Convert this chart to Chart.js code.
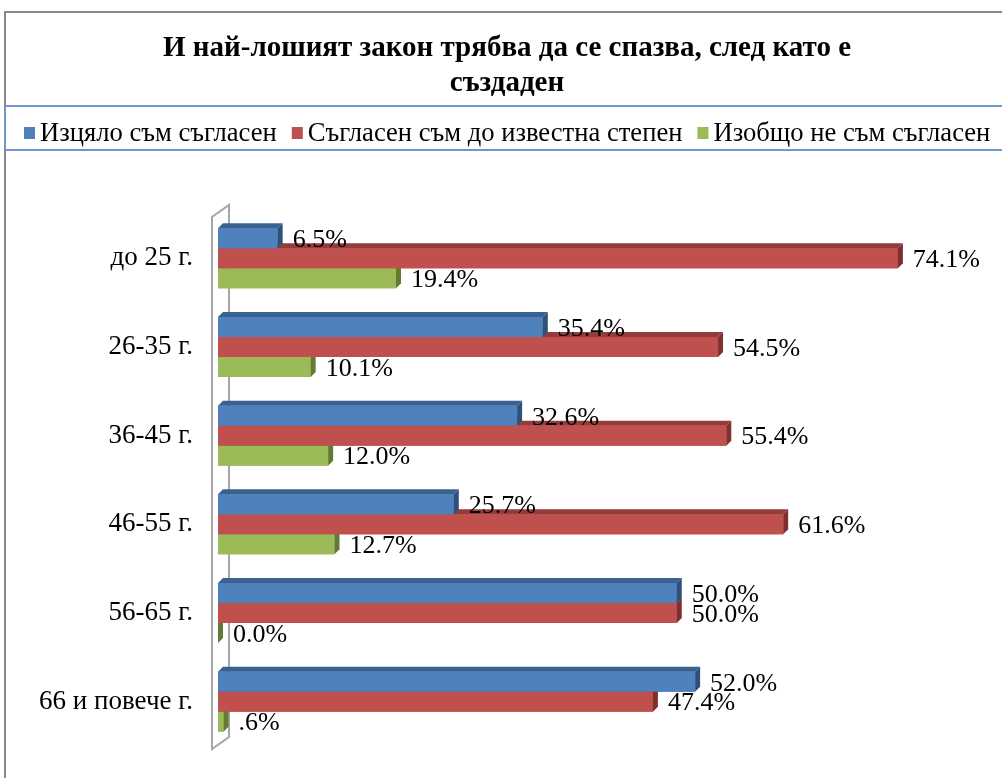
<!DOCTYPE html>
<html>
<head>
<meta charset="utf-8">
<script src="https://cdn.jsdelivr.net/npm/chart.js@4/dist/chart.umd.min.js"></script>
<style>
body { margin: 0; background: #fff; }
</style>
</head>
<body>
<canvas id="chart" width="1002" height="778"></canvas>
<script>
var titleLines = ["И най-лошият закон трябва да се спазва, след като е", "създаден"]
var categories = ["до 25 г.", "26-35 г.", "36-45 г.", "46-55 г.", "56-65 г.", "66 и повече г."]
var seriesNames = ["Изцяло съм съгласен", "Съгласен съм до известна степен", "Изобщо не съм съгласен"]
var fullyAgree = [6.5, 35.4, 32.6, 25.7, 50.0, 52.0]
var partlyAgree = [74.1, 54.5, 55.4, 61.6, 50.0, 47.4]
var disagree = [19.4, 10.1, 12.0, 12.7, 0.0, 0.6]

var serif = "'Liberation Serif', 'Times New Roman', serif"
var front = ["#4f81bd", "#c0504d", "#9bbb59"]
var topFace = ["#3a6291", "#933c3a", "#76923f"]
var sideFace = ["#2e5079", "#7d302e", "#627a34"]
var depth = 5

function fmt(v) {
    var s = v.toFixed(1)
    if (v > 0 && v < 1) s = s.slice(1)   // excel shows ".6%"
    return s + "%"
}

var frame = {
    id: "frame",
    beforeDraw: function (chart) {
        var c = chart.ctx
        c.save()
        c.fillStyle = "#fff"
        c.fillRect(0, 0, chart.width, chart.height)
        c.strokeStyle = "#878787"
        c.lineWidth = 2
        c.strokeRect(5, 12, chart.width + 20, chart.height + 20)

        c.fillStyle = "#000"
        c.font = "bold 29px " + serif
        c.textAlign = "center"
        c.textBaseline = "middle"
        titleLines.forEach(function (t, i) { c.fillText(t, 507, 49 + i * 35) })

        // legend box + items
        c.strokeStyle = "#7196c8"
        c.strokeRect(5, 106, chart.width + 20, 44)
        c.font = "26.6px " + serif
        c.textAlign = "left"
        var x = 24
        chart.data.datasets.forEach(function (ds, i) {
            c.fillStyle = front[i]
            c.fillRect(x, 127, 11, 12)
            c.fillStyle = "#000"
            c.fillText(ds.label, x + 16, 134)
            x += 16 + c.measureText(ds.label).width + 15
        })
        c.restore()
    },
    beforeDatasetsDraw: function (chart) {
        var a = chart.chartArea, c = chart.ctx
        c.save()
        c.strokeStyle = "#a6a6a6"
        c.lineWidth = 2
        c.fillStyle = "#fff"
        c.beginPath()
        c.moveTo(a.left - 6, a.top + 3)
        c.lineTo(a.left + 11, a.top - 9)
        c.lineTo(a.left + 11, a.bottom - 9)
        c.lineTo(a.left - 6, a.bottom + 3)
        c.closePath()
        c.fill()
        c.stroke()
        c.restore()
    },
    afterDatasetsDraw: function (chart) {
        var c = chart.ctx
        c.save()
        var n = chart.data.labels.length
        for (var j = 0; j < n; j++) {
            for (var i = 2; i >= 0; i--) {
                var el = chart.getDatasetMeta(i).data[j]
                var p = el.getProps(["x", "y", "base", "height"], true)
                var t = p.y - p.height / 2, b = p.y + p.height / 2
                c.fillStyle = front[i]
                c.fillRect(p.base, t, p.x - p.base, p.height)
                c.fillStyle = topFace[i]
                c.beginPath()
                c.moveTo(p.base, t)
                c.lineTo(p.base + depth, t - depth)
                c.lineTo(p.x + depth, t - depth)
                c.lineTo(p.x, t)
                c.closePath()
                c.fill()
                c.fillStyle = sideFace[i]
                c.beginPath()
                c.moveTo(p.x, t)
                c.lineTo(p.x + depth, t - depth)
                c.lineTo(p.x + depth, b - depth)
                c.lineTo(p.x, b)
                c.closePath()
                c.fill()
            }
        }
        c.fillStyle = "#000"
        c.font = "26px " + serif
        c.textAlign = "left"
        c.textBaseline = "middle"
        chart.data.datasets.forEach(function (ds, i) {
            chart.getDatasetMeta(i).data.forEach(function (el, j) {
                c.fillText(fmt(ds.data[j]), el.x + 15, el.y + 2)
            })
        })
        c.restore()
    }
}

var chart = new Chart(document.getElementById("chart").getContext("2d"), {
    type: "bar",
    data: {
        labels: categories,
        datasets: [
            { label: seriesNames[0], data: fullyAgree, backgroundColor: front[0] },
            { label: seriesNames[1], data: partlyAgree, backgroundColor: front[1] },
            { label: seriesNames[2], data: disagree, backgroundColor: front[2] }
        ]
    },
    options: {
        indexAxis: "y",
        responsive: false,
        animation: false,
        layout: { padding: { top: 214, bottom: 32, right: 50, left: 0 } },
        datasets: { bar: { categoryPercentage: 0.676, barPercentage: 1 } },
        plugins: {
            legend: { display: false },
            title: { display: false },
            tooltip: { enabled: false }
        },
        scales: {
            x: { display: false, min: 0, max: 80 },
            y: {
                grid: { display: false, drawTicks: false },
                border: { display: false },
                ticks: { padding: 25, color: "#000", font: { family: serif, size: 27 } },
                afterFit: function (s) {
                    s.width = 218
                    s.paddingTop = 0
                    s.paddingBottom = 0
                }
            }
        }
    },
    plugins: [frame]
})
</script>
</body>
</html>
